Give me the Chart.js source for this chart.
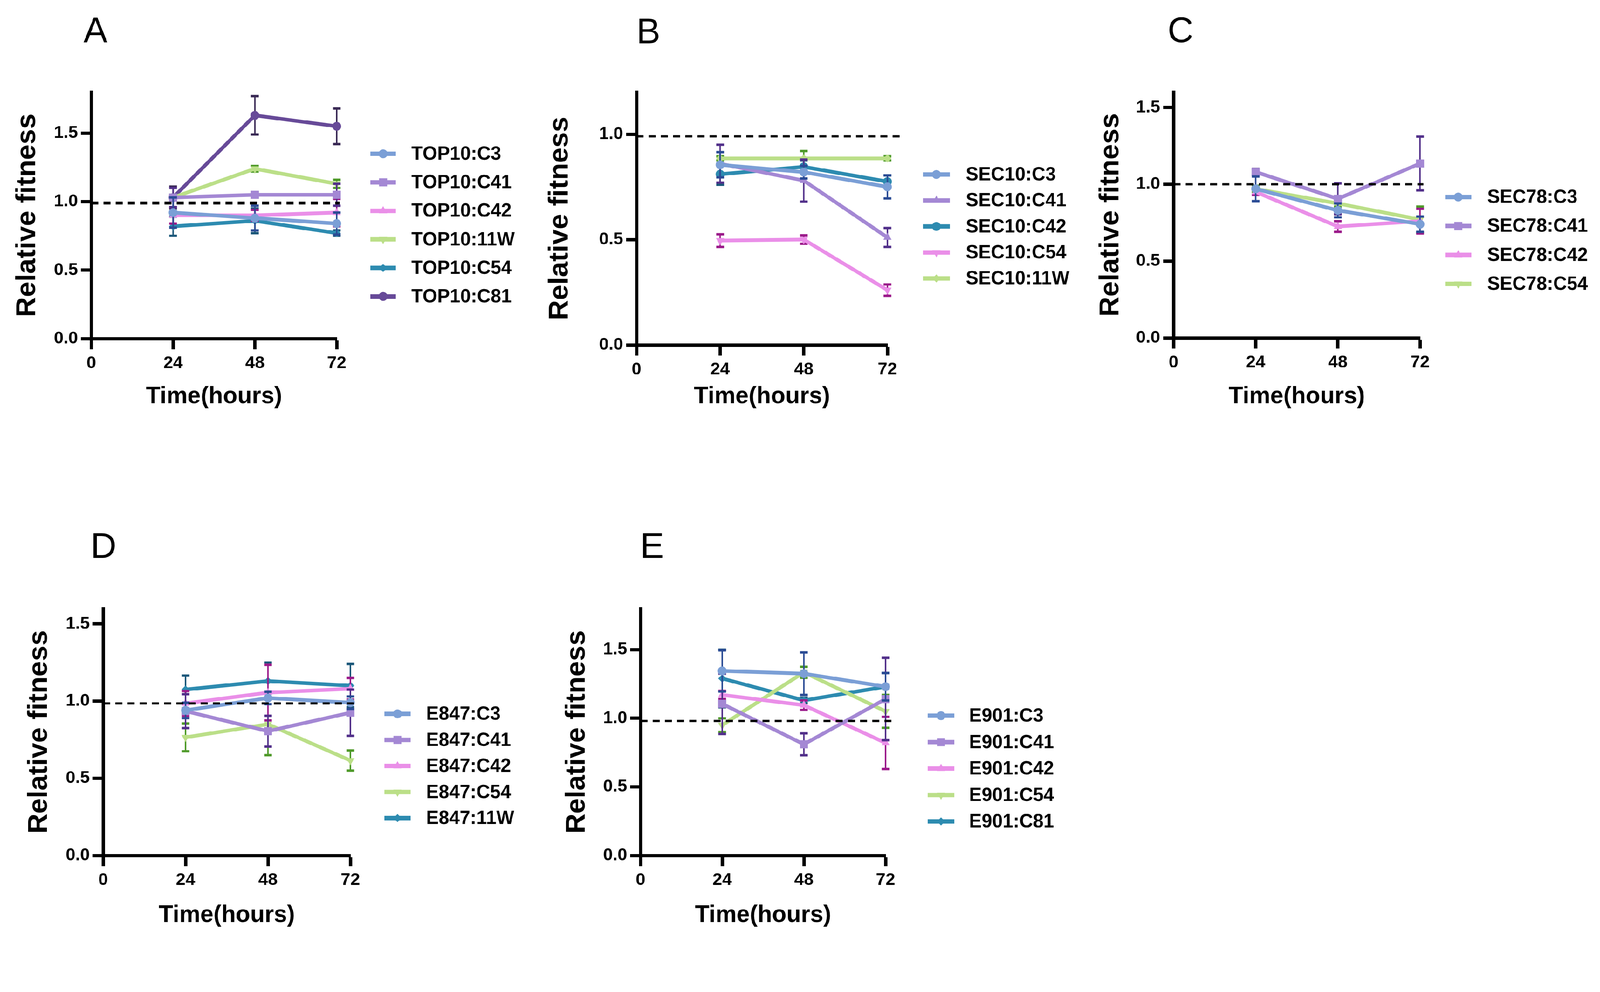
<!DOCTYPE html>
<html lang="en">
<head>
<meta charset="UTF-8" />
<title>Relative fitness over time</title>
<script src="https://cdn.jsdelivr.net/npm/chart.js"></script>
<style>
  html, body { margin: 0; padding: 0; background: #fff; overflow: hidden; }
  #page { width: 4329px; height: 2539px; position: relative; transform-origin: 0 0; }
  canvas { position: absolute; }
</style>
</head>
<body>
<div id="page">
<canvas id="cA"></canvas>
<canvas id="cB"></canvas>
<canvas id="cC"></canvas>
<canvas id="cD"></canvas>
<canvas id="cE"></canvas>
</div>
<script>
// ---- data ----
const times = [24, 48, 72];
const xTicks = [0, 24, 48, 72];
const yTicks3 = [0, 0.5, 1.0, 1.5];
const yTicks2 = [0, 0.5, 1.0];

const aLabels = ['TOP10:C3', 'TOP10:C41', 'TOP10:C42', 'TOP10:11W', 'TOP10:C54', 'TOP10:C81'];
const aMeans = [[0.92, 0.88, 0.84], [1.03, 1.05, 1.05], [0.90, 0.90, 0.92],
                [1.03, 1.24, 1.13], [0.82, 0.86, 0.77], [1.03, 1.63, 1.55]];
const aErrors = [[0.11, 0.09, 0.08], [0.07, 0.02, 0.08], [0.06, 0.04, 0.10],
                 [0.02, 0.02, 0.03], [0.07, 0.09, 0.02], [0.08, 0.14, 0.13]];

const bLabels = ['SEC10:C3', 'SEC10:C41', 'SEC10:C42', 'SEC10:C54', 'SEC10:11W'];
const bMeans = [[0.855, 0.82, 0.75], [0.86, 0.78, 0.51], [0.81, 0.845, 0.775],
                [0.495, 0.50, 0.26], [0.885, 0.885, 0.885]];
const bErrors = [[0.06, 0.03, 0.055], [0.09, 0.10, 0.045], [0.05, 0.03, 0.03],
                 [0.03, 0.02, 0.027], [0.01, 0.035, 0.01]];

const cLabels = ['SEC78:C3', 'SEC78:C41', 'SEC78:C42', 'SEC78:C54'];
const cMeans = [[0.97, 0.83, 0.74], [1.08, 0.905, 1.135], [0.95, 0.725, 0.76], [0.97, 0.875, 0.77]];
const cErrors = [[0.08, 0.045, 0.05], [0.02, 0.10, 0.175], [0.02, 0.035, 0.08], [0.02, 0.02, 0.085]];

const dLabels = ['E847:C3', 'E847:C41', 'E847:C42', 'E847:C54', 'E847:11W'];
const dMeans = [[0.94, 1.02, 0.99], [0.935, 0.805, 0.925], [0.985, 1.055, 1.08],
                [0.765, 0.85, 0.615], [1.075, 1.13, 1.10]];
const dErrors = [[0.05, 0.04, 0.04], [0.11, 0.10, 0.15], [0.08, 0.18, 0.07],
                 [0.09, 0.20, 0.065], [0.09, 0.12, 0.14]];

const eLabels = ['E901:C3', 'E901:C41', 'E901:C42', 'E901:C54', 'E901:C81'];
const eMeans = [[1.345, 1.325, 1.23], [1.105, 0.81, 1.14], [1.17, 1.095, 0.82],
                [0.95, 1.335, 1.05], [1.29, 1.13, 1.23]];
const eErrors = [[0.15, 0.155, 0.10], [0.22, 0.08, 0.30], [0.03, 0.035, 0.19],
                 [0.05, 0.04, 0.12], [0.21, 0.02, 0.10]];

const refLevels = [0.99, 0.99, 1.0, 0.985, 0.98];   // dashed line at ~1
const refEnds = [72.9, 76.4, 73.0, 73.8, 73.7];     // where the dashed line stops (hours)
const yMaxes = [1.8, 1.2, 1.6, 1.6, 1.8];

// ---- styles ----
const FONT = "'Liberation Sans', Arial, Helvetica, sans-serif";
const C = {
  blue:   ['#7b9fd6', '#2b4c95'],
  purple: ['#a488d4', '#52308a'],
  pink:   ['#ea8fe8', '#9b1a8a'],
  green:  ['#bbdf88', '#4f9a2a'],
  teal:   ['#2d8bb0', '#1c587a'],
  plum:   ['#674a98', '#3a2a55']
};
// [point style, rotation, radius]
const M = {
  circle: ['circle', 0, 12],
  square: ['rect', 0, 15.5],
  up:     ['triangle', 0, 13],
  down:   ['triangle', 180, 13],
  diam:   ['rectRot', 0, 11]
};
const aStyle = [['blue', 'circle'], ['purple', 'square'], ['pink', 'up'], ['green', 'down'], ['teal', 'diam'], ['plum', 'circle']];
const bStyle = [['blue', 'circle'], ['purple', 'up'], ['teal', 'circle'], ['pink', 'down'], ['green', 'diam']];
const cStyle = [['blue', 'circle'], ['purple', 'square'], ['pink', 'up'], ['green', 'down']];
const dStyle = [['blue', 'circle'], ['purple', 'square'], ['pink', 'up'], ['green', 'down'], ['teal', 'diam']];
const eStyle = [['blue', 'circle'], ['purple', 'square'], ['pink', 'up'], ['green', 'down'], ['teal', 'diam']];

// page layout (px, in the 4329x2539 frame)
const layouts = [
  { id: 'cA', letter: 'A', box: [0, 0, 1440, 1160], area: [247, 249, 911, 916], lx: 226, ly: 114,
    yTitleX: 74, xTitleY: 1073, leg: [1002, 1071, 1113, 416, 77.2], refW: 8 },
  { id: 'cB', letter: 'B', box: [1440, 0, 1480, 1160], area: [1722, 249, 2401, 933], lx: 1722, ly: 117,
    yTitleX: 1515, xTitleY: 1073, leg: [2497, 2570, 2613, 472, 70.3], refW: 6 },
  { id: 'cC', letter: 'C', box: [2920, 0, 1409, 1160], area: [3175, 249, 3842, 914], lx: 3159, ly: 114,
    yTitleX: 3005, xTitleY: 1073, leg: [3910, 3981, 4024, 533, 78.3], refW: 6 },
  { id: 'cD', letter: 'D', box: [0, 1380, 1440, 1159], area: [279, 1646, 948, 2314], lx: 245, ly: 1509,
    yTitleX: 106, xTitleY: 2476, leg: [1040, 1111, 1153, 1931, 70.5], refW: 6 },
  { id: 'cE', letter: 'E', box: [1440, 1380, 1480, 1159], area: [1733, 1646, 2396, 2314], lx: 1732, ly: 1509,
    yTitleX: 1561, xTitleY: 2476, leg: [2510, 2582, 2622, 1936, 71.5], refW: 6 }
];

// fit the 4329x2539 frame into whatever the viewport is
const pageScale = Math.min(window.innerWidth / 4329, window.innerHeight / 2539);
document.getElementById('page').style.transform = 'scale(' + pageScale + ')';

// error bars drawn just before each dataset
const errorBars = {
  id: 'errorBars',
  beforeDatasetDraw(chart, args) {
    const ds = chart.data.datasets[args.index];
    if (!ds.errors) return;
    const ctx = chart.ctx, ys = chart.scales.y;
    ctx.save();
    ctx.strokeStyle = ds.errColor;
    args.meta.data.forEach((pt, i) => {
      const v = ds.data[i].y, e = ds.errors[i];
      const t = ys.getPixelForValue(v + e), b = ys.getPixelForValue(v - e);
      ctx.lineWidth = 4;
      ctx.beginPath(); ctx.moveTo(pt.x, t); ctx.lineTo(pt.x, b); ctx.stroke();
      ctx.lineWidth = 6.5;
      ctx.beginPath();
      ctx.moveTo(pt.x - 10.5, t); ctx.lineTo(pt.x + 10.5, t);
      ctx.moveTo(pt.x - 10.5, b); ctx.lineTo(pt.x + 10.5, b);
      ctx.stroke();
    });
    ctx.restore();
  }
};

// legend on the right + panel letter
const sideLegend = {
  id: 'sideLegend',
  afterDraw(chart, args, o) {
    const ctx = chart.ctx;
    const [x0, x1, tx, y0, dy] = o.leg;
    ctx.save();
    let k = 0;
    chart.data.datasets.forEach(ds => {
      if (ds.isRef) return;
      const y = y0 + k * dy - o.oy;
      ctx.strokeStyle = ds.borderColor;
      ctx.lineWidth = 12;
      ctx.beginPath(); ctx.moveTo(x0 - o.ox, y); ctx.lineTo(x1 - o.ox, y); ctx.stroke();
      ctx.fillStyle = ds.borderColor;
      Chart.helpers.drawPoint(ctx, {
        pointStyle: ds.pointStyle, rotation: ds.pointRotation,
        radius: ds.pointRadius, borderWidth: 0
      }, (x0 + x1) / 2 - o.ox, y);
      ctx.fillStyle = '#000';
      ctx.font = 'bold 51px ' + FONT;
      ctx.textBaseline = 'middle';
      ctx.textAlign = 'left';
      ctx.fillText(ds.label, tx - o.ox, y + 2);
      k++;
    });
    ctx.font = '97px ' + FONT;
    ctx.textBaseline = 'alphabetic';
    ctx.fillText(o.letter, o.lx - o.ox, o.ly - o.oy);
    ctx.restore();
  }
};

function makePanel(n, labels, means, errors, style, yTicks) {
  const L = layouts[n];
  const [bx, by, bw, bh] = L.box;
  const [left, top, right, bottom] = L.area;
  const cv = document.getElementById(L.id);
  cv.width = bw; cv.height = bh;
  cv.style.left = bx + 'px'; cv.style.top = by + 'px';
  cv.style.width = bw + 'px'; cv.style.height = bh + 'px';

  const datasets = labels.map((lab, i) => {
    const col = C[style[i][0]], mk = M[style[i][1]];
    return {
      label: lab,
      data: times.map((t, j) => ({ x: t, y: means[i][j] })),
      errors: errors[i],
      errColor: col[1],
      borderColor: col[0],
      backgroundColor: col[0],
      pointBackgroundColor: col[0],
      borderWidth: 10,
      pointStyle: mk[0], pointRotation: mk[1], pointRadius: mk[2],
      pointBorderWidth: 0,
      clip: false
    };
  });
  datasets.push({
    label: 'ref', isRef: true,
    data: [{ x: 0, y: refLevels[n] }, { x: refEnds[n], y: refLevels[n] }],
    borderColor: '#000', borderWidth: L.refW, borderDash: [19, 14],
    pointRadius: 0, clip: false, order: -1
  });

  const tickFont = { family: FONT, size: 47, weight: 'bold' };
  new Chart(cv, {
    type: 'line',
    data: { datasets },
    plugins: [errorBars, sideLegend],
    options: {
      responsive: false, animation: false, devicePixelRatio: 1,
      layout: { padding: { left: 0, top: top - by, right: bw - (right - bx), bottom: 0 } },
      plugins: {
        legend: { display: false }, tooltip: { enabled: false },
        sideLegend: { leg: L.leg, ox: bx, oy: by, letter: L.letter, lx: L.lx, ly: L.ly }
      },
      scales: {
        x: {
          type: 'linear', min: 0, max: 72,
          afterBuildTicks: s => { s.ticks = xTicks.map(v => ({ value: v })); },
          afterFit: s => { s.height = bh - (bottom - by); },
          grid: { drawOnChartArea: false, drawTicks: true, tickLength: 29, tickWidth: 9, tickColor: '#000' },
          border: { display: true, color: '#000', width: 9 },
          ticks: { color: '#000', font: tickFont, padding: 10, maxRotation: 0, autoSkip: false,
                   callback: v => String(v) },
          title: { display: true, text: 'Time(hours)', color: '#000',
                   font: { family: FONT, size: 64, weight: 'bold' },
                   padding: { top: 0, bottom: bh - (L.xTitleY - by) - 64 * 0.6 } }
        },
        y: {
          min: 0, max: yMaxes[n],
          afterBuildTicks: s => { s.ticks = yTicks.map(v => ({ value: v })); },
          afterFit: s => { s.width = left - bx; },
          grid: { drawOnChartArea: false, drawTicks: true, tickLength: 28, tickWidth: 9, tickColor: '#000' },
          border: { display: true, color: '#000', width: 9 },
          ticks: { color: '#000', font: tickFont, padding: 8, autoSkip: false,
                   callback: v => Number(v).toFixed(1) },
          title: { display: true, text: 'Relative fitness', color: '#000',
                   font: { family: FONT, size: 75, weight: 'bold' },
                   padding: { top: (L.yTitleX - bx) - 75 * 0.6, bottom: 0 } }
        }
      }
    }
  });
}

makePanel(0, aLabels, aMeans, aErrors, aStyle, yTicks3);
makePanel(1, bLabels, bMeans, bErrors, bStyle, yTicks2);
makePanel(2, cLabels, cMeans, cErrors, cStyle, yTicks3);
makePanel(3, dLabels, dMeans, dErrors, dStyle, yTicks3);
makePanel(4, eLabels, eMeans, eErrors, eStyle, yTicks3);
</script>
</body>
</html>
